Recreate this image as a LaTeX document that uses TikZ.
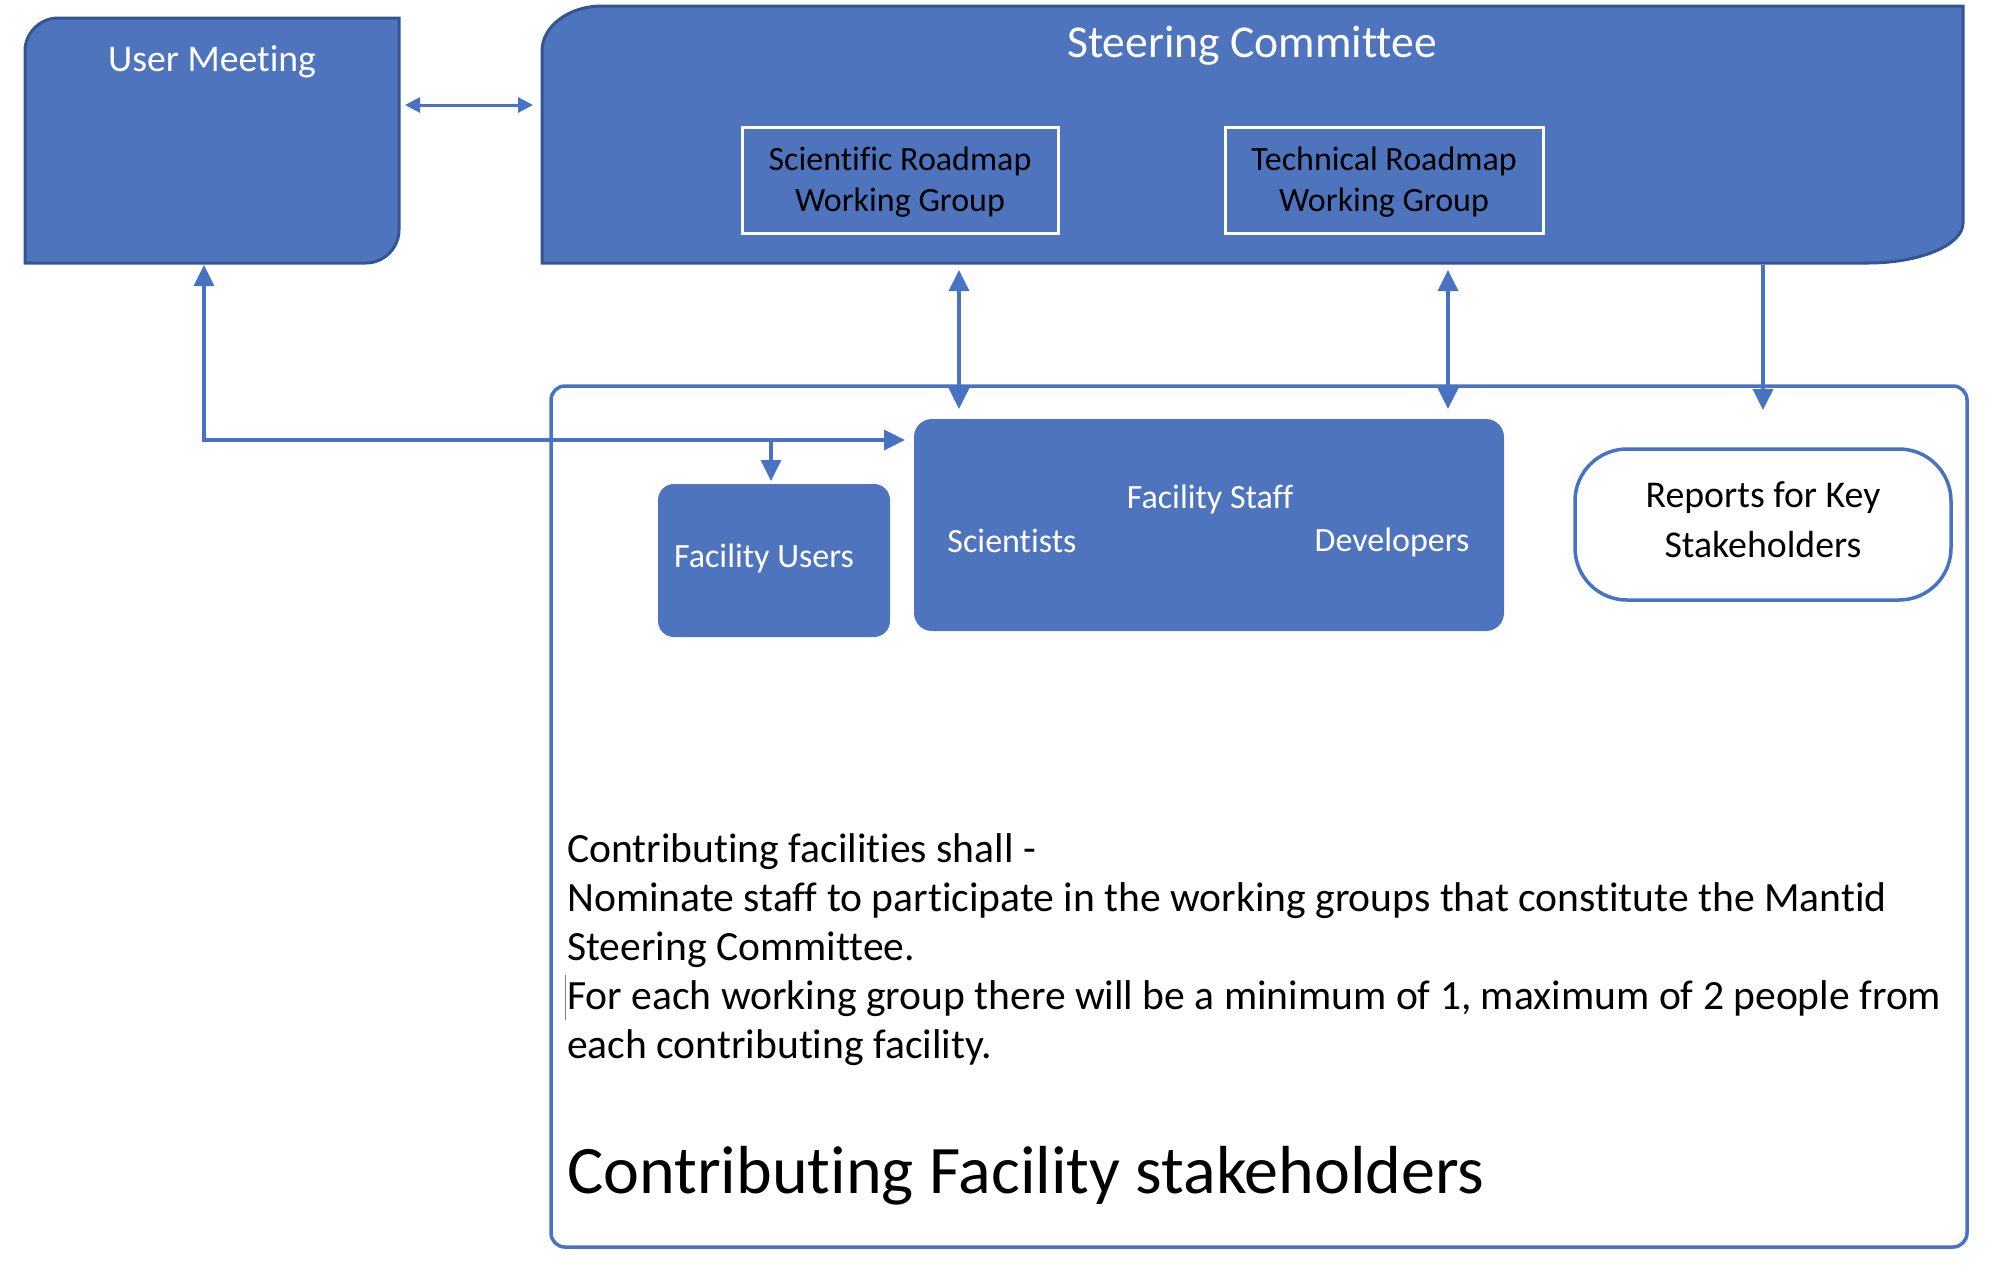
\documentclass[tikz,border=0pt]{standalone}
\usepackage{fontspec}
\setmainfont{Carlito}[Ligatures=NoCommon]
\usetikzlibrary{arrows.meta,calc}
\definecolor{ofblue}{RGB}{78,116,190}
\definecolor{ofdark}{RGB}{52,84,146}
\definecolor{ofline}{RGB}{72,114,196}
\tikzset{
  bigtip/.tip={Triangle[length=21pt,width=20pt]},
  smalltip/.tip={Triangle[length=15pt,width=15pt]}
}
\begin{document}
\begin{tikzpicture}[x=1pt,y=-1pt,
  conn/.style={draw=ofline, line width=3.5pt},
  holder/.style={inner sep=0pt, outer sep=0pt},
  bluebox/.style={fill=ofblue, inner sep=0pt, outer sep=0pt},
  wglabel/.style={draw=white, line width=3pt, inner sep=0pt, outer sep=0pt, align=center, text=black, font=\fontsize{34pt}{41pt}\selectfont},
  whitetxt/.style={text=white, inner sep=0pt},
  bodytxt/.style={anchor=base west, inner sep=0pt, text=black, font=\fontsize{41.6pt}{49pt}\selectfont}
]
\useasboundingbox (0,0) rectangle (1999,1283);

% outer frame: Contributing Facility stakeholders
\node[holder, draw=ofline, line width=3.5pt, rounded corners=14pt, minimum width=1416pt, minimum height=861pt] (frame) at (1259,816.5) {};

% User Meeting
\node[holder, minimum width=374pt, minimum height=245pt] (um) at (212,140.5) {};
\filldraw[fill=ofblue, draw=ofdark, line width=3pt] (25,51) .. controls (25,33) and (40,18) .. (58,18) -- (399,18) -- (399,230) .. controls (399,248) and (384,263) .. (366,263) -- (25,263) -- cycle;
\node[whitetxt, anchor=base, font=\fontsize{37.7pt}{44pt}\selectfont] (umt) at (212,71) {User Meeting};

% Steering Committee
\node[holder, minimum width=1421pt, minimum height=257pt] (sc) at (1252.5,134.5) {};
\filldraw[fill=ofblue, draw=ofdark, line width=3pt] (542,51) .. controls (542,26) and (569,6) .. (602,6) -- (1963,6) -- (1963,223) .. controls (1963,245) and (1920,263) .. (1868,263) -- (542,263) -- cycle;
\node[whitetxt, anchor=base, font=\fontsize{45.6pt}{52pt}\selectfont] (sct) at (1252,57) {Steering Committee};

\node[wglabel, minimum width=316pt, minimum height=106pt, text depth=0pt] (srwg) at (900,180) {};
\node[inner sep=0pt, align=center, text=black, font=\fontsize{34pt}{41pt}\selectfont] (srwgt) at (900,182.5) {Scientific Roadmap\\Working Group};
\node[wglabel, minimum width=318pt, minimum height=106pt] (trwg) at (1384,180) {};
\node[inner sep=0pt, align=center, text=black, font=\fontsize{34pt}{41pt}\selectfont] (trwgt) at (1384,182.5) {Technical Roadmap\\Working Group};

% Facility Users / Staff
\node[bluebox, rounded corners=16pt, minimum width=232pt, minimum height=153pt] (fu) at (774,560.5) {};
\node[whitetxt, font=\fontsize{34pt}{41pt}\selectfont] (fut) at (764,558.5) {Facility Users};
\node[bluebox, rounded corners=18pt, minimum width=590pt, minimum height=212pt] (fs) at (1209,525) {};
\node[whitetxt, font=\fontsize{34pt}{41pt}\selectfont] (fst) at (1210,499.5) {Facility Staff};
\node[whitetxt, font=\fontsize{34pt}{41pt}\selectfont] (sci) at (1012,541) {Scientists};
\node[whitetxt, font=\fontsize{34pt}{41pt}\selectfont] (dev) at (1392,542) {Developers};

% Reports
\node[holder, draw=ofline, fill=white, line width=3.5pt, rounded corners=52pt, minimum width=376pt, minimum height=151pt] (rep) at (1763,524.5) {};
\node[inner sep=0pt, align=center, text=black, font=\fontsize{37.8pt}{50pt}\selectfont] (rept) at (1763,519.5) {Reports for Key\\Stakeholders};

% connectors
\coordinate (umsc) at (0,105);
\draw[conn, line width=3pt, smalltip-smalltip] ([xshift=6pt]um.east |- umsc) -- ([xshift=-9pt]sc.west |- umsc);
\coordinate (a1) at (959,0);
\coordinate (a2) at (1448,0);
\draw[conn, bigtip-bigtip] ([yshift=-7pt]sc.south -| a1) -- ([yshift=10pt]fs.north -| a1);
\draw[conn, bigtip-bigtip] ([yshift=-7pt]sc.south -| a2) -- ([yshift=10pt]fs.north -| a2);
\draw[conn, -bigtip] ([yshift=-2pt]sc.south -| rep.north) -- ([yshift=39pt]rep.north);
\coordinate (j) at (204,440);
\coordinate (b) at (771,440);
\draw[conn, bigtip-bigtip] ([yshift=-2pt]um.south -| j) -- (j) -- ([xshift=-9pt]fs.west |- j);
\draw[conn, -bigtip] (b) -- ([yshift=3pt]fu.north -| b);

% text in frame
\draw[gray, line width=1pt] (565,975) -- (565,1020);
\node[bodytxt] (l1) at (567,862) {Contributing facilities shall -};
\node[bodytxt] (l2) at (567,911) {Nominate staff to participate in the working groups that constitute the Mantid};
\node[bodytxt] (l3) at (567,960) {Steering Committee.};
\node[bodytxt] (l4) at (567,1009) {For each working group there will be a minimum of 1, maximum of 2 people from};
\node[bodytxt] (l5) at (567,1058) {each contributing facility.};
\node[bodytxt, font=\fontsize{68pt}{80pt}\selectfont] (title) at (567,1193) {Contributing Facility stakeholders};
\end{tikzpicture}
\end{document}
